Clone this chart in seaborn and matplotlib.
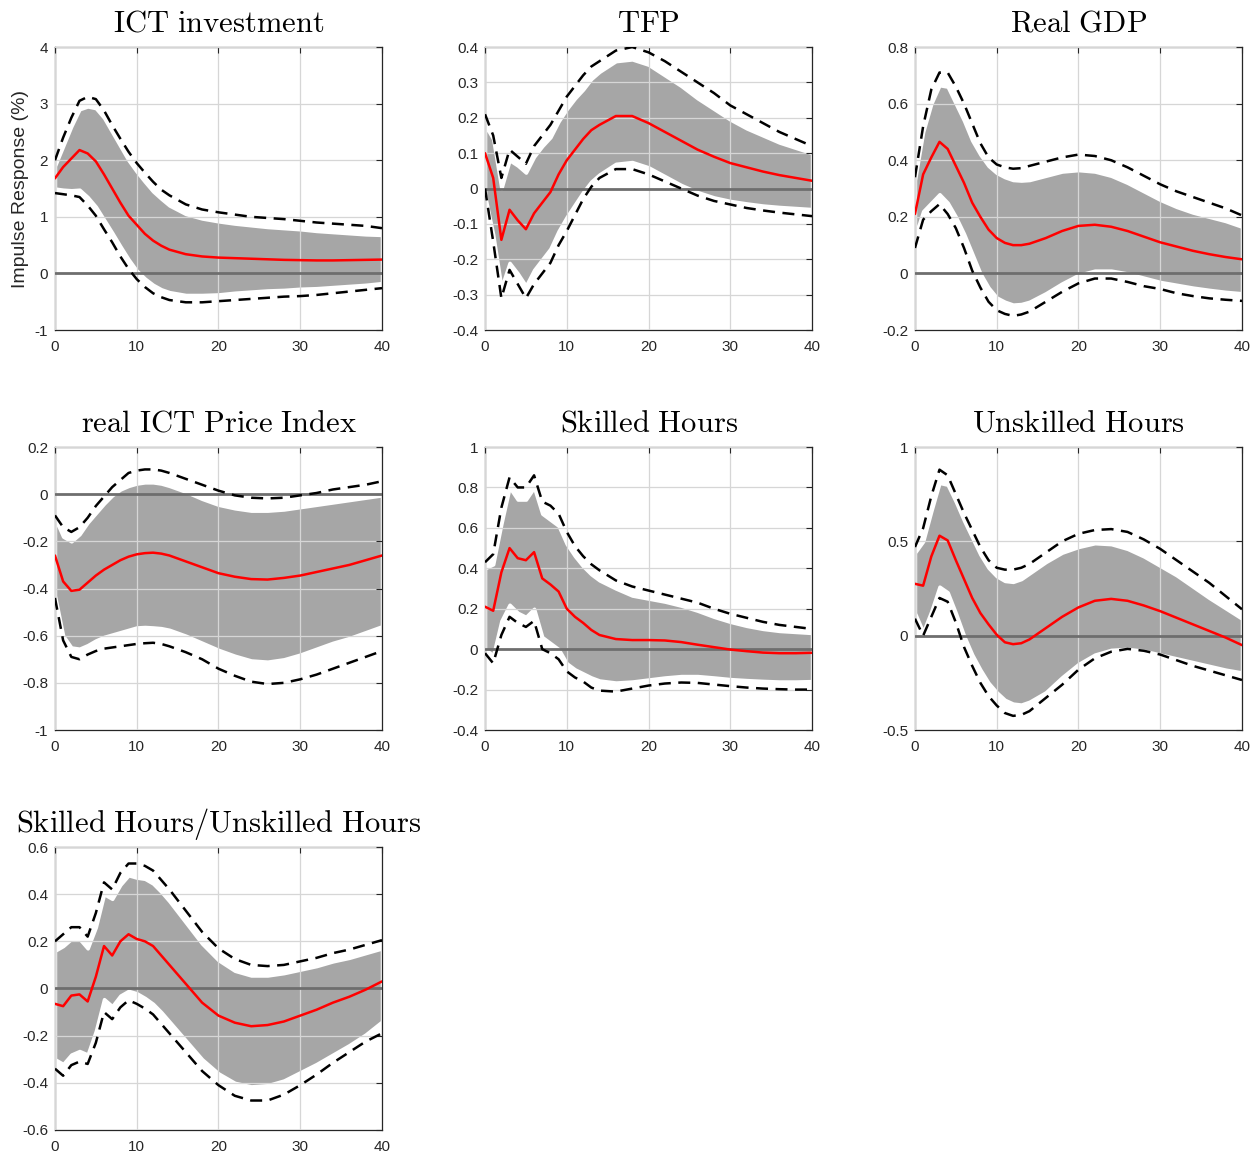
import numpy as np
import pandas as pd
import matplotlib
matplotlib.use("Agg")
import matplotlib.pyplot as plt
import seaborn as sns

# horizons (quarters)
h = list(range(15)) + list(range(16, 41, 2))

# ICT investment
ict_lo90 = [1.42, 1.40, 1.38, 1.35, 1.20, 1.02, 0.78, 0.55, 0.30, 0.08, -0.10, -0.24, -0.35, -0.42, -0.47,
            -0.51, -0.51, -0.49, -0.47, -0.45, -0.43, -0.41, -0.40, -0.38, -0.35, -0.32, -0.29, -0.26]
ict_lo68 = [1.50, 1.48, 1.47, 1.48, 1.35, 1.18, 0.95, 0.72, 0.48, 0.25, 0.05, -0.09, -0.20, -0.28, -0.33,
            -0.38, -0.38, -0.37, -0.34, -0.32, -0.30, -0.29, -0.27, -0.26, -0.24, -0.22, -0.20, -0.17]
ict_med = [1.68, 1.88, 2.03, 2.18, 2.12, 1.98, 1.75, 1.50, 1.25, 1.02, 0.86, 0.70, 0.58, 0.49, 0.42,
           0.34, 0.30, 0.28, 0.27, 0.26, 0.25, 0.24, 0.235, 0.23, 0.23, 0.235, 0.24, 0.245]
ict_up68 = [1.90, 2.25, 2.60, 2.90, 2.95, 2.92, 2.75, 2.50, 2.25, 2.00, 1.80, 1.62, 1.45, 1.32, 1.20,
            1.05, 0.97, 0.92, 0.88, 0.85, 0.82, 0.80, 0.78, 0.75, 0.73, 0.71, 0.69, 0.68]
ict_up90 = [2.00, 2.40, 2.75, 3.05, 3.12, 3.08, 2.88, 2.62, 2.38, 2.15, 1.95, 1.78, 1.62, 1.48, 1.38,
            1.22, 1.13, 1.08, 1.04, 1.00, 0.98, 0.96, 0.93, 0.90, 0.88, 0.86, 0.84, 0.80]

# TFP
tfp_lo90 = [0.0, -0.15, -0.31, -0.23, -0.27, -0.31, -0.27, -0.24, -0.21, -0.16, -0.12, -0.075, -0.03, 0.005, 0.03,
            0.055, 0.055, 0.04, 0.02, 0.0, -0.02, -0.035, -0.045, -0.055, -0.062, -0.068, -0.073, -0.078]
tfp_lo68 = [-0.02, -0.13, -0.28, -0.21, -0.24, -0.275, -0.23, -0.20, -0.17, -0.12, -0.08, -0.045, -0.01, 0.02, 0.04,
            0.07, 0.075, 0.06, 0.035, 0.01, -0.01, -0.025, -0.035, -0.042, -0.048, -0.052, -0.055, -0.058]
tfp_med = [0.10, 0.03, -0.145, -0.06, -0.09, -0.115, -0.07, -0.04, -0.01, 0.04, 0.08, 0.11, 0.14, 0.165, 0.18,
           0.205, 0.205, 0.185, 0.16, 0.135, 0.11, 0.09, 0.072, 0.06, 0.048, 0.038, 0.03, 0.022]
tfp_up68 = [0.18, 0.14, 0.0, 0.08, 0.065, 0.045, 0.09, 0.12, 0.145, 0.19, 0.225, 0.255, 0.28, 0.31, 0.33,
            0.36, 0.365, 0.35, 0.32, 0.29, 0.255, 0.225, 0.195, 0.17, 0.15, 0.13, 0.115, 0.10]
tfp_up90 = [0.21, 0.15, 0.03, 0.11, 0.09, 0.07, 0.12, 0.15, 0.18, 0.22, 0.26, 0.29, 0.32, 0.345, 0.36,
            0.39, 0.40, 0.385, 0.36, 0.33, 0.30, 0.27, 0.235, 0.21, 0.185, 0.16, 0.14, 0.12]

# Real GDP
gdp_lo90 = [0.09, 0.19, 0.22, 0.245, 0.21, 0.16, 0.09, 0.01, -0.05, -0.10, -0.13, -0.143, -0.15, -0.145, -0.135,
            -0.10, -0.065, -0.035, -0.018, -0.018, -0.03, -0.045, -0.055, -0.07, -0.08, -0.088, -0.093, -0.097]
gdp_lo68 = [0.13, 0.22, 0.25, 0.28, 0.25, 0.20, 0.14, 0.07, 0.0, -0.05, -0.085, -0.10, -0.11, -0.108, -0.10,
            -0.07, -0.035, -0.005, 0.01, 0.01, 0.0, -0.015, -0.03, -0.04, -0.05, -0.058, -0.065, -0.07]
gdp_med = [0.21, 0.35, 0.41, 0.465, 0.44, 0.38, 0.32, 0.25, 0.20, 0.155, 0.125, 0.108, 0.10, 0.10, 0.105,
           0.125, 0.15, 0.168, 0.172, 0.165, 0.15, 0.13, 0.11, 0.095, 0.08, 0.068, 0.058, 0.05]
gdp_up68 = [0.33, 0.50, 0.60, 0.665, 0.66, 0.60, 0.54, 0.47, 0.42, 0.38, 0.355, 0.34, 0.33, 0.328, 0.33,
            0.345, 0.36, 0.365, 0.36, 0.345, 0.32, 0.29, 0.26, 0.235, 0.215, 0.20, 0.185, 0.165]
gdp_up90 = [0.34, 0.52, 0.65, 0.71, 0.71, 0.66, 0.60, 0.53, 0.46, 0.41, 0.385, 0.375, 0.37, 0.372, 0.38,
            0.395, 0.41, 0.42, 0.415, 0.40, 0.375, 0.345, 0.315, 0.29, 0.27, 0.25, 0.23, 0.205]

# real ICT Price Index
price_lo90 = [-0.44, -0.62, -0.69, -0.70, -0.68, -0.665, -0.655, -0.65, -0.645, -0.64, -0.635, -0.632, -0.63, -0.635, -0.645,
              -0.67, -0.70, -0.74, -0.77, -0.795, -0.805, -0.80, -0.785, -0.765, -0.74, -0.715, -0.69, -0.665]
price_lo68 = [-0.43, -0.60, -0.65, -0.655, -0.64, -0.62, -0.605, -0.595, -0.585, -0.575, -0.565, -0.563, -0.565, -0.568, -0.575,
              -0.60, -0.63, -0.66, -0.685, -0.705, -0.71, -0.70, -0.68, -0.655, -0.63, -0.61, -0.585, -0.56]
price_med = [-0.26, -0.37, -0.41, -0.405, -0.375, -0.345, -0.32, -0.30, -0.28, -0.265, -0.255, -0.25, -0.248, -0.252, -0.26,
             -0.285, -0.31, -0.335, -0.35, -0.36, -0.362, -0.355, -0.345, -0.33, -0.315, -0.30, -0.28, -0.26]
price_up68 = [-0.10, -0.18, -0.20, -0.17, -0.12, -0.08, -0.04, -0.005, 0.02, 0.035, 0.045, 0.05, 0.05, 0.045, 0.035,
              0.01, -0.02, -0.045, -0.06, -0.07, -0.07, -0.065, -0.055, -0.045, -0.035, -0.025, -0.015, -0.005]
price_up90 = [-0.09, -0.14, -0.16, -0.14, -0.10, -0.05, -0.01, 0.03, 0.06, 0.09, 0.10, 0.105, 0.105, 0.10, 0.09,
              0.065, 0.04, 0.015, -0.005, -0.015, -0.018, -0.015, -0.005, 0.005, 0.02, 0.03, 0.04, 0.055]

# Skilled Hours
skill_lo90 = [-0.02, -0.07, 0.07, 0.16, 0.13, 0.11, 0.14, 0.0, -0.02, -0.05, -0.11, -0.14, -0.16, -0.19, -0.205,
              -0.21, -0.195, -0.18, -0.17, -0.165, -0.167, -0.175, -0.183, -0.19, -0.195, -0.198, -0.20, -0.20]
skill_lo68 = [0.0, -0.03, 0.14, 0.22, 0.18, 0.16, 0.20, 0.06, 0.03, 0.0, -0.07, -0.10, -0.12, -0.14, -0.155,
              -0.165, -0.16, -0.15, -0.14, -0.133, -0.133, -0.14, -0.148, -0.153, -0.157, -0.16, -0.16, -0.158]
skill_med = [0.21, 0.19, 0.38, 0.50, 0.45, 0.44, 0.48, 0.35, 0.32, 0.285, 0.20, 0.16, 0.13, 0.095, 0.07,
             0.05, 0.045, 0.045, 0.043, 0.035, 0.022, 0.01, -0.002, -0.01, -0.017, -0.02, -0.02, -0.018]
skill_up68 = [0.40, 0.42, 0.62, 0.80, 0.74, 0.74, 0.80, 0.67, 0.64, 0.61, 0.52, 0.46, 0.41, 0.37, 0.34,
              0.30, 0.265, 0.25, 0.235, 0.215, 0.19, 0.16, 0.135, 0.115, 0.10, 0.09, 0.085, 0.08]
skill_up90 = [0.43, 0.47, 0.70, 0.85, 0.80, 0.80, 0.86, 0.73, 0.71, 0.67, 0.58, 0.51, 0.46, 0.42, 0.39,
              0.34, 0.31, 0.29, 0.27, 0.25, 0.23, 0.20, 0.175, 0.155, 0.135, 0.12, 0.11, 0.10]

# Unskilled Hours
unsk_lo90 = [0.09, 0.0, 0.10, 0.20, 0.18, 0.07, -0.06, -0.16, -0.25, -0.32, -0.37, -0.41, -0.425, -0.42, -0.40,
             -0.33, -0.26, -0.18, -0.12, -0.085, -0.07, -0.08, -0.10, -0.13, -0.16, -0.185, -0.21, -0.235]
unsk_lo68 = [0.12, 0.02, 0.13, 0.26, 0.23, 0.12, 0.0, -0.10, -0.18, -0.25, -0.30, -0.34, -0.36, -0.365, -0.35,
             -0.30, -0.22, -0.15, -0.10, -0.075, -0.07, -0.08, -0.10, -0.12, -0.14, -0.16, -0.18, -0.195]
unsk_med = [0.275, 0.265, 0.42, 0.53, 0.505, 0.40, 0.30, 0.20, 0.12, 0.06, 0.005, -0.035, -0.045, -0.04, -0.02,
            0.04, 0.10, 0.15, 0.185, 0.195, 0.185, 0.16, 0.13, 0.095, 0.06, 0.025, -0.01, -0.05]
unsk_up68 = [0.44, 0.50, 0.66, 0.81, 0.80, 0.71, 0.61, 0.52, 0.43, 0.36, 0.315, 0.29, 0.285, 0.30, 0.33,
             0.39, 0.44, 0.47, 0.49, 0.485, 0.46, 0.42, 0.37, 0.32, 0.26, 0.20, 0.145, 0.09]
unsk_up90 = [0.47, 0.57, 0.74, 0.88, 0.85, 0.75, 0.65, 0.56, 0.47, 0.40, 0.36, 0.35, 0.35, 0.36, 0.38,
             0.44, 0.50, 0.54, 0.56, 0.565, 0.55, 0.51, 0.46, 0.40, 0.34, 0.28, 0.21, 0.14]

# Skilled Hours / Unskilled Hours
ratio_lo90 = [-0.34, -0.37, -0.325, -0.31, -0.32, -0.23, -0.10, -0.13, -0.08, -0.05, -0.065, -0.085, -0.11, -0.15, -0.19,
              -0.27, -0.35, -0.41, -0.455, -0.475, -0.475, -0.45, -0.41, -0.365, -0.315, -0.27, -0.225, -0.19]
ratio_lo68 = [-0.30, -0.32, -0.28, -0.265, -0.28, -0.18, -0.045, -0.075, -0.03, -0.01, -0.02, -0.04, -0.065, -0.10, -0.14,
              -0.22, -0.30, -0.36, -0.40, -0.415, -0.41, -0.39, -0.355, -0.32, -0.28, -0.24, -0.195, -0.14]
ratio_med = [-0.065, -0.075, -0.03, -0.025, -0.055, 0.05, 0.18, 0.14, 0.20, 0.23, 0.21, 0.20, 0.18, 0.14, 0.10,
             0.02, -0.06, -0.115, -0.145, -0.16, -0.155, -0.14, -0.115, -0.09, -0.06, -0.035, -0.005, 0.03]
ratio_up68 = [0.16, 0.18, 0.21, 0.21, 0.17, 0.26, 0.40, 0.38, 0.44, 0.48, 0.47, 0.465, 0.445, 0.41, 0.37,
              0.28, 0.19, 0.12, 0.075, 0.055, 0.055, 0.065, 0.08, 0.095, 0.115, 0.13, 0.15, 0.17]
ratio_up90 = [0.20, 0.23, 0.26, 0.26, 0.22, 0.32, 0.45, 0.42, 0.49, 0.53, 0.53, 0.52, 0.50, 0.46, 0.42,
              0.33, 0.24, 0.17, 0.125, 0.10, 0.095, 0.10, 0.115, 0.13, 0.15, 0.165, 0.185, 0.205]

titles = ["ICT investment", "TFP", "Real GDP", "real ICT Price Index",
          "Skilled Hours", "Unskilled Hours", "Skilled Hours/Unskilled Hours"]
ylims = [(-1, 4), (-0.4, 0.4), (-0.2, 0.8), (-1, 0.2), (-0.4, 1), (-0.5, 1), (-0.6, 0.6)]
ysteps = [1, 0.1, 0.2, 0.2, 0.2, 0.5, 0.2]

panels = [
    (ict_lo90, ict_lo68, ict_med, ict_up68, ict_up90),
    (tfp_lo90, tfp_lo68, tfp_med, tfp_up68, tfp_up90),
    (gdp_lo90, gdp_lo68, gdp_med, gdp_up68, gdp_up90),
    (price_lo90, price_lo68, price_med, price_up68, price_up90),
    (skill_lo90, skill_lo68, skill_med, skill_up68, skill_up90),
    (unsk_lo90, unsk_lo68, unsk_med, unsk_up68, unsk_up90),
    (ratio_lo90, ratio_lo68, ratio_med, ratio_up68, ratio_up90),
]

sns.set_style("white")
plt.rcParams["font.family"] = ["Liberation Sans", "DejaVu Sans"]
plt.rcParams["mathtext.fontset"] = "cm"


def tick_fmt(v, pos):
    v = round(v, 6) + 0.0
    return "0" if v == 0 else f"{v:g}"


fig = plt.figure(figsize=(12.52, 11.56), dpi=100)

lefts = [0.0439, 0.3874, 0.7308]
bottoms = [0.7145, 0.3685, 0.0225]
w, ht = 0.2612, 0.2448

for i, (title, (lo90, lo68, med, up68, up90)) in enumerate(zip(titles, panels)):
    ax = fig.add_axes([lefts[i % 3], bottoms[i // 3], w, ht])
    df = pd.DataFrame({"h": h, "lo90": lo90, "lo68": lo68, "med": med,
                       "up68": up68, "up90": up90})

    ax.fill_between(df["h"], df["lo68"], df["up68"], facecolor="#a6a6a6",
                    edgecolor="white", linewidth=2.5, zorder=1)
    ax.axhline(0, color="#6e6e6e", lw=2, zorder=3)
    for col in ["lo90", "up90"]:
        sns.lineplot(data=df, x="h", y=col, ax=ax, color="black", lw=1.8,
                     dashes=False, zorder=4).lines[-1].set_dashes((4.8, 3.0))
    sns.lineplot(data=df, x="h", y="med", ax=ax, color="red", lw=1.8, zorder=5)

    lo, hi = ylims[i]
    ax.set_xlim(0, 40)
    ax.set_ylim(lo, hi)
    ax.set_xticks(range(0, 41, 10))
    ax.set_yticks(np.round(np.arange(lo, hi + 1e-9, ysteps[i]), 2))
    ax.yaxis.set_major_formatter(matplotlib.ticker.FuncFormatter(tick_fmt))
    ax.set_xlabel("")
    ax.set_ylabel("")
    ax.grid(True, color="#d6d6d6", lw=0.9)
    ax.set_axisbelow(False)
    ax.tick_params(direction="in", top=True, right=True, length=4, width=0.8,
                   labelsize=11, labelcolor="#262626", color="#262626")
    ax.tick_params(axis="x", pad=7)
    ax.tick_params(axis="y", pad=5)
    for s in ax.spines.values():
        s.set_color("#262626")
        s.set_linewidth(0.9)
    ax.set_title("$\\mathrm{" + title.replace(" ", "\\ ") + "}$", fontsize=22,
                 color="black", pad=11)
    if i == 0:
        ax.set_ylabel("Impulse Response (%)", fontsize=14, color="#262626", labelpad=4)

plt.savefig("out.png", dpi=100)
